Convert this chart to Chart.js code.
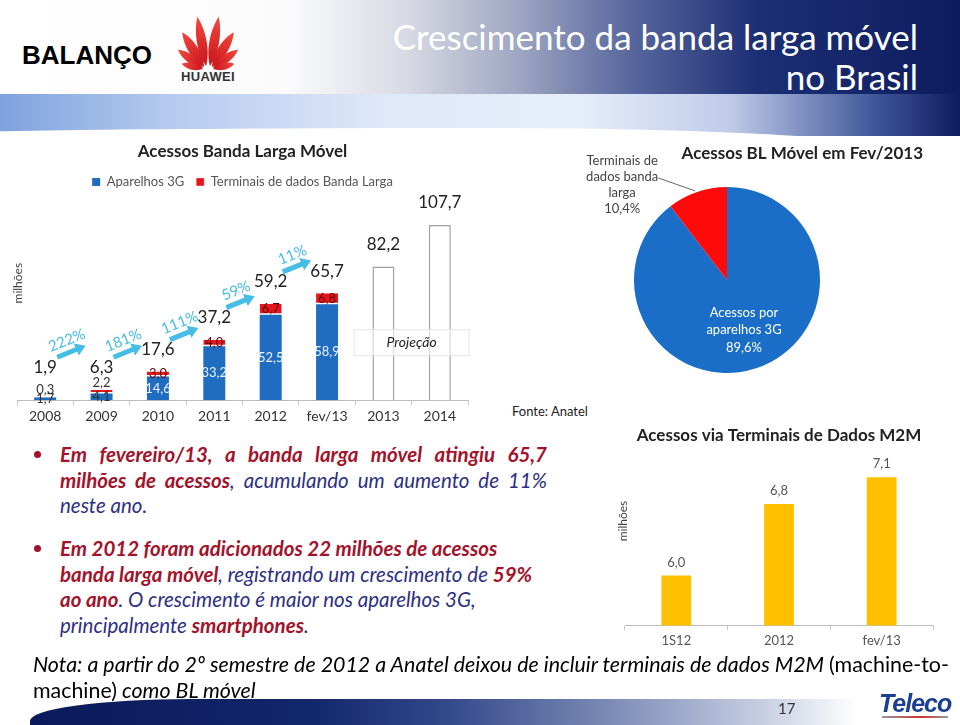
<!DOCTYPE html>
<html lang="pt-BR">
<head>
<meta charset="utf-8">
<title>Crescimento da banda larga móvel no Brasil</title>
<script src="https://cdn.jsdelivr.net/npm/chart.js@4.4.1/dist/chart.umd.min.js"></script>
<style>
  html, body { margin: 0; padding: 0; background: #fff; }
  #slide { position: relative; width: 960px; height: 725px; overflow: hidden; background: #fff; font-family: Lato, "Open Sans", sans-serif; }
  .abs { position: absolute; }
  #head { left: 0; top: 0; width: 960px; height: 96px;
    background: linear-gradient(90deg, #ffffff 0%, #fbfbfc 30%, #d9dbe4 42%, #9ea6c2 54%, #56659c 66%, #1c2f74 79%, #0d1c5e 100%); }
  #band { left: 0; top: 94px; width: 960px; height: 42px;
    background: linear-gradient(90deg, #7fa2de 0%, #b6cbef 18%, #dfe8f9 40%, #e7eefb 60%, #bfcbe9 76%, #41579a 91%, #0d1c5e 100%); }
  #bandcut { left: -60px; top: 128px; width: 1000px; height: 40px; background: #fff;
    border-top-left-radius: 55% 6px; border-top-right-radius: 45% 30px; }
  #balanco { left: 22px; top: 40px; font: bold 26px "Liberation Sans", Arial, sans-serif; color: #000; }
  #huawei-txt { left: 172px; top: 69px; width: 72px; text-align: center; font: bold 13px "Liberation Sans", Arial, sans-serif; color: #333; letter-spacing: 0.3px; }
  #title { right: 42px; top: 16px; text-align: right; color: #fff; font: 35px Lato, sans-serif; line-height: 40px; }
  .bul { left: 34px; width: 7px; height: 7px; border-radius: 50%; background: #a3132b; }
  .txt { left: 60px; width: 487px; font-size: 20.5px; font-style: italic; color: #2e3083; line-height: 25.5px; white-space: nowrap; }
  .txt div { height: 25.5px; }
  .j { text-align: justify; text-align-last: justify; }
  .r { color: #a3132b; font-weight: bold; }
  #fonte { left: 512px; top: 403px; font-size: 13px; color: #222; }
  #nota { left: 33px; top: 651px; font-size: 21.4px; line-height: 26px; color: #000; white-space: nowrap; }
  #nota i { font-style: italic; }
  #foot { left: 30px; top: 699px; width: 930px; height: 26px;
    background: linear-gradient(90deg, #0a1a5a 0%, #12266a 30%, #34498a 45%, #7e8eb8 63%, #cdd4e6 80%, #ffffff 89%);
    border-top-left-radius: 160px 22px; }
  #pg { left: 778px; top: 699px; font-size: 15px; color: #333; }
  #teleco { left: 879px; top: 689px; font: italic bold 25px "Liberation Sans", Arial, sans-serif; color: #1c3f94; letter-spacing: -1px; }
  #teleline { left: 882px; top: 716px; width: 66px; height: 2px; background: linear-gradient(90deg, #999, #c33 60%, #999); }
  canvas { position: absolute; }
</style>
</head>
<body>
<div id="slide">
  <div class="abs" id="head"></div>
  <div class="abs" id="band"></div>
  <div class="abs" id="bandcut"></div>
  <div class="abs" id="balanco">BALANÇO</div>
  <svg class="abs" style="left:170px;top:10px" width="76" height="62" viewBox="0 0 76 62">
    <defs>
      <linearGradient id="pg1" x1="0" y1="1" x2="0" y2="0">
        <stop offset="0" stop-color="#c8141c"/><stop offset="1" stop-color="#f2483e"/>
      </linearGradient>
    </defs>
    <g fill="url(#pg1)">
      <path d="M0,0 C-7,-14 -6,-36 0,-50 C6,-36 7,-14 0,0 Z" transform="translate(36,56) rotate(-10)"/>
      <path d="M0,0 C-7,-14 -6,-36 0,-50 C6,-36 7,-14 0,0 Z" transform="translate(40,56) rotate(10)"/>
      <path d="M0,0 C-7,-12 -6,-30 0,-41 C6,-30 7,-12 0,0 Z" transform="translate(34,57) rotate(-32)"/>
      <path d="M0,0 C-7,-12 -6,-30 0,-41 C6,-30 7,-12 0,0 Z" transform="translate(42,57) rotate(32)"/>
      <path d="M0,0 C-6,-10 -5,-23 0,-31 C5,-23 6,-10 0,0 Z" transform="translate(33,58) rotate(-54)"/>
      <path d="M0,0 C-6,-10 -5,-23 0,-31 C5,-23 6,-10 0,0 Z" transform="translate(43,58) rotate(54)"/>
      <path d="M0,0 C-5,-8 -4,-16 0,-22 C4,-16 5,-8 0,0 Z" transform="translate(33,59) rotate(-76)"/>
      <path d="M0,0 C-5,-8 -4,-16 0,-22 C4,-16 5,-8 0,0 Z" transform="translate(43,59) rotate(76)"/>
    </g>
  </svg>
  <div class="abs" id="huawei-txt">HUAWEI</div>
  <div class="abs" id="title">Crescimento da banda larga móvel<br>no Brasil</div>

  <canvas id="chartBL" width="480" height="300" style="left:0;top:135px"></canvas>
  <canvas id="chartPie" width="392" height="258" style="left:531px;top:135px"></canvas>
  <canvas id="chartM2M" width="345" height="245" style="left:600px;top:412px"></canvas>

  <div class="abs" id="fonte">Fonte: Anatel</div>

  <div class="abs bul" style="top:451px"></div>
  <div class="abs txt" style="top:442px">
    <div class="j r">Em fevereiro/13, a banda larga móvel atingiu 65,7</div>
    <div class="j"><span class="r">milhões de acessos</span>, acumulando um aumento de 11%</div>
    <div>neste ano.</div>
  </div>
  <div class="abs bul" style="top:545px"></div>
  <div class="abs txt" style="top:536px">
    <div class="r">Em 2012 foram adicionados 22 milhões de acessos</div>
    <div><span class="r">banda larga móvel</span>, registrando um crescimento de <span class="r">59%</span></div>
    <div><span class="r">ao ano</span>. O crescimento é maior nos aparelhos 3G,</div>
    <div>principalmente <span class="r">smartphones</span>.</div>
  </div>

  <div class="abs" id="nota"><i>Nota: a partir do 2º semestre de 2012 a Anatel deixou de incluir terminais de dados M2M </i>(machine-to-<br>machine)<i> como BL móvel</i></div>

  <div class="abs" id="foot"></div>
  <div class="abs" id="pg">17</div>
  <div class="abs" id="teleco">Teleco</div>
  <div class="abs" id="teleline"></div>
</div>

<script>
// ---- data ----
const categories = ['2008', '2009', '2010', '2011', '2012', 'fev/13', '2013', '2014'];
const aparelhos3G = [1.7, 4.1, 14.6, 33.2, 52.5, 58.9, null, null];
const terminaisDados = [0.3, 2.2, 3.0, 4.0, 6.7, 6.8, null, null];
const projecao = [null, null, null, null, null, null, 82.2, 107.7];
const totals = [1.9, 6.3, 17.6, 37.2, 59.2, 65.7, 82.2, 107.7];
const growth = ['222%', '181%', '111%', '59%', '11%'];

const pieLabels = [['Acessos por', 'aparelhos 3G'], ['Terminais de', 'dados banda', 'larga']];
const pieValues = [89.6, 10.4];

const m2mCategories = ['1S12', '2012', 'fev/13'];
const m2mValues = [6.0, 6.8, 7.1];

const BLUE = '#1e6dc1';
const RED = '#e8141c';
const CYAN = '#45bde6';

Chart.defaults.font.family = 'Lato, "Open Sans", sans-serif';
Chart.defaults.color = '#333';
Chart.defaults.animation = false;
Chart.defaults.plugins.tooltip.enabled = false;

const fmt = v => v.toFixed(1).replace('.', ',');

// rotated "milhões" label drawn inside the plot, like the original
const yTitle = {
  id: 'yTitle',
  afterDraw(chart, args, opts) {
    const {ctx, chartArea} = chart;
    ctx.save();
    ctx.translate(chartArea.left + opts.dx, chartArea.top + (chartArea.bottom - chartArea.top) * opts.pos);
    ctx.rotate(-Math.PI / 2);
    ctx.font = '12px Lato';
    ctx.fillStyle = '#444';
    ctx.textAlign = 'center';
    ctx.textBaseline = 'middle';
    ctx.fillText(opts.text, 0, 0);
    ctx.restore();
  }
};

// segment values, totals, growth arrows and "Projeção" note
const blLabels = {
  id: 'blLabels',
  afterDatasetsDraw(chart) {
    const {ctx, scales: {x, y}} = chart;
    const base = y.getPixelForValue(0);
    const m0 = chart.getDatasetMeta(0), m1 = chart.getDatasetMeta(1);
    ctx.save();
    ctx.textAlign = 'center';
    ctx.textBaseline = 'middle';

    ctx.font = '13px Lato';
    aparelhos3G.forEach((v, i) => {
      if (v == null) return;
      const el = m0.data[i];
      ctx.fillStyle = v >= 10 ? 'rgba(255,255,255,0.92)' : '#333';
      ctx.fillText(fmt(v), el.x, (el.y + el.base) / 2);
    });
    terminaisDados.forEach((v, i) => {
      if (v == null) return;
      const el = m1.data[i];
      const small = aparelhos3G[i] < 10;
      ctx.fillStyle = small ? '#333' : '#5a0a0a';
      ctx.fillText(fmt(v), el.x, small ? el.y - 7 : (el.y + el.base) / 2);
    });

    ctx.font = '17px Lato';
    ctx.fillStyle = '#222';
    const labY = totals.map(t => Math.min(y.getPixelForValue(t) - 22, base - 33));
    totals.forEach((t, i) => ctx.fillText(fmt(t), x.getPixelForValue(i), labY[i]));

    const ang = -22 * Math.PI / 180;
    growth.forEach((g, i) => {
      const x0 = x.getPixelForValue(i) + 12, y0 = labY[i] - 10;
      const x1 = x.getPixelForValue(i + 1) - 16;
      const len = (x1 - x0) / Math.cos(ang);
      ctx.save();
      ctx.translate(x0, y0);
      ctx.rotate(ang);
      ctx.fillStyle = CYAN;
      ctx.fillRect(0, -2.5, len - 8, 5);
      ctx.beginPath();
      ctx.moveTo(len, 0);
      ctx.lineTo(len - 10, -6.5);
      ctx.lineTo(len - 10, 6.5);
      ctx.closePath();
      ctx.fill();
      ctx.font = '15px Lato';
      ctx.fillText(g, len / 2, -12);
      ctx.restore();
    });

    const px = (x.getPixelForValue(6) + x.getPixelForValue(7)) / 2, py = base - 58;
    ctx.fillStyle = 'rgba(255,255,255,0.6)';
    ctx.fillRect(px - 57, py - 13, 115, 26);
    ctx.strokeStyle = '#e4e4e4';
    ctx.lineWidth = 1;
    ctx.strokeRect(px - 57.5, py - 12.5, 115, 26);
    ctx.font = 'italic 14px Lato';
    ctx.fillStyle = '#222';
    ctx.fillText('Projeção', px, py);
    ctx.restore();
  }
};

new Chart(document.getElementById('chartBL'), {
  type: 'bar',
  data: {
    labels: categories,
    datasets: [
      { label: 'Aparelhos 3G', data: aparelhos3G, backgroundColor: BLUE,
        categoryPercentage: 1, barPercentage: 0.39 },
      { label: 'Terminais de dados Banda Larga', data: terminaisDados, backgroundColor: RED,
        borderColor: '#fff', borderWidth: {top: 0, left: 0, right: 0, bottom: 1.5}, borderSkipped: false,
        categoryPercentage: 1, barPercentage: 0.39 },
      { label: 'Projeção', data: projecao, backgroundColor: '#fff',
        borderColor: '#a0a0a0', borderWidth: 1.5, borderSkipped: 'start',
        categoryPercentage: 1, barPercentage: 0.39 }
    ]
  },
  options: {
    responsive: false,
    layout: { padding: { left: 17, right: 12, top: 0, bottom: 7 } },
    plugins: {
      title: { display: true, text: 'Acessos Banda Larga Móvel', color: '#222',
        font: { size: 17, weight: 'bold' }, padding: { top: 6, bottom: 2 } },
      legend: { display: true,
        labels: { boxWidth: 8, boxHeight: 8, padding: 12, color: '#555', font: { size: 13 },
          filter: item => item.datasetIndex < 2 } },
      yTitle: { text: 'milhões', dx: 1, pos: 0.42 }
    },
    scales: {
      x: { stacked: true,
        grid: { display: true, drawOnChartArea: false, drawTicks: true, tickLength: 5, color: '#c8c8c8' },
        border: { display: true, color: '#bdbdbd' },
        ticks: { color: '#333', font: { size: 14 }, padding: 3 } },
      y: { stacked: true, display: false, min: 0, max: 124 }
    }
  },
  plugins: [blLabels, yTitle]
});

// pie labels: white inside label, leader-line label for the small slice
const pieText = {
  id: 'pieText',
  afterDatasetsDraw(chart) {
    const {ctx} = chart;
    const meta = chart.getDatasetMeta(0);
    const total = pieValues.reduce((a, b) => a + b, 0);
    ctx.save();
    ctx.textAlign = 'center';
    ctx.textBaseline = 'middle';
    ctx.font = '13px Lato';

    const a0 = meta.data[0];
    const m0 = (a0.startAngle + a0.endAngle) / 2;
    const cx = a0.x + Math.cos(m0) * a0.outerRadius * 0.57;
    const cy = a0.y + Math.sin(m0) * a0.outerRadius * 0.57;
    const lines0 = pieLabels[0].concat(fmt(pieValues[0] / total * 100) + '%');
    ctx.fillStyle = '#fff';
    lines0.forEach((t, k) => ctx.fillText(t, cx, cy + (k - 1) * 17.5));

    const a1 = meta.data[1];
    const m1 = (a1.startAngle + a1.endAngle) / 2;
    const ex = a1.x + Math.cos(m1) * a1.outerRadius;
    const ey = a1.y + Math.sin(m1) * a1.outerRadius;
    ctx.strokeStyle = '#666';
    ctx.lineWidth = 1;
    ctx.beginPath();
    ctx.moveTo(ex - 2, ey - 1);
    ctx.lineTo(ex - 39, ey - 14);
    ctx.stroke();
    const lines1 = pieLabels[1].concat(fmt(pieValues[1] / total * 100) + '%');
    ctx.fillStyle = '#444';
    lines1.forEach((t, k) => ctx.fillText(t, ex - 75, ey - 31 + k * 16));
    ctx.restore();
  }
};

new Chart(document.getElementById('chartPie'), {
  type: 'pie',
  data: {
    labels: pieLabels,
    datasets: [{ data: pieValues, backgroundColor: ['#1a6ec8', '#fe0a0a'], borderWidth: 0 }]
  },
  options: {
    responsive: false,
    layout: { padding: { left: 0, right: 0, top: 0, bottom: 20 } },
    plugins: {
      title: { display: true, text: 'Acessos BL Móvel em Fev/2013', align: 'end', color: '#222',
        font: { size: 17, weight: 'bold' }, padding: { top: 8, bottom: 23.6 } },
      legend: { display: false }
    }
  },
  plugins: [pieText]
});

const m2mValuesLabels = {
  id: 'm2mValuesLabels',
  afterDatasetsDraw(chart) {
    const {ctx} = chart;
    const meta = chart.getDatasetMeta(0);
    ctx.save();
    ctx.textAlign = 'center';
    ctx.textBaseline = 'middle';
    ctx.font = '13px Lato';
    ctx.fillStyle = '#555';
    m2mValues.forEach((v, i) => {
      const el = meta.data[i];
      ctx.fillText(fmt(v), el.x, el.y - 13);
    });
    ctx.restore();
  }
};

new Chart(document.getElementById('chartM2M'), {
  type: 'bar',
  data: {
    labels: m2mCategories,
    datasets: [{ label: 'M2M', data: m2mValues, backgroundColor: '#ffc000',
      categoryPercentage: 1, barPercentage: 0.29 }]
  },
  options: {
    responsive: false,
    layout: { padding: { left: 25, right: 12, top: 0, bottom: 5 } },
    plugins: {
      title: { display: true, text: 'Acessos via Terminais de Dados M2M', color: '#222',
        font: { size: 17, weight: 'bold' }, padding: { top: 13, bottom: 6 } },
      legend: { display: false },
      yTitle: { text: 'milhões', dx: -2, pos: 0.40 }
    },
    scales: {
      x: { grid: { display: true, drawOnChartArea: false, drawTicks: true, tickLength: 5, color: '#c8c8c8' },
        border: { display: true, color: '#bdbdbd' },
        ticks: { color: '#555', font: { size: 13 }, padding: 3 } },
      y: { display: false, min: 5.44, max: 7.39 }
    }
  },
  plugins: [m2mValuesLabels, yTitle]
});
</script>
</body>
</html>
